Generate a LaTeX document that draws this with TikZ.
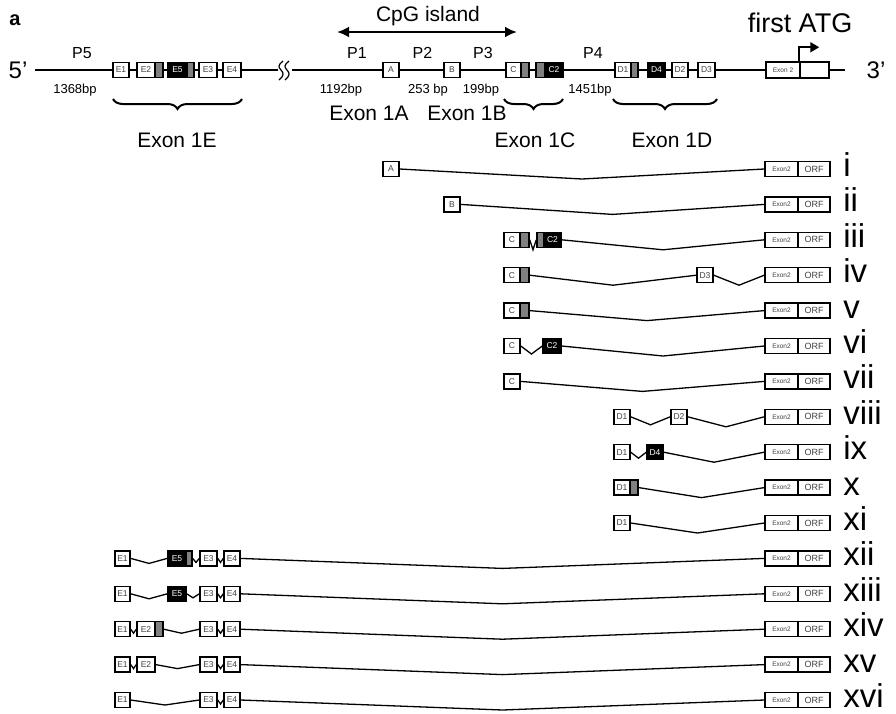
\documentclass[tikz,border=0pt]{standalone}
\usepackage{fontspec}
\setmainfont{Liberation Sans}
\usetikzlibrary{arrows.meta,calc,decorations.pathreplacing}
\tikzset{
  every picture/.style={line width=0.6pt},
  exn/.style={draw,rectangle,line width=1.5pt,minimum height=15,minimum width=16,inner sep=0,fill=white,text=black!75,font=\fontsize{8.5}{8.5}\selectfont},
  gbox/.style={exn,fill=black!50,minimum width=8},
  kbox/.style={exn,fill=black,text=white},
  ebox/.style={exn,minimum width=33,font=\fontsize{6.5}{6.5}\selectfont},
  obox/.style={exn,minimum width=32,font=\fontsize{9}{9}\selectfont},
  lbl/.style={font=\fontsize{16}{16}\selectfont,inner sep=0,anchor=base},
  bp/.style={font=\fontsize{13}{13}\selectfont,inner sep=0,anchor=base},
  big/.style={font=\fontsize{21}{21}\selectfont,inner sep=0,anchor=base},
  num/.style={font=\fontsize{33}{33}\selectfont,inner sep=0,anchor=base west},
  intr/.style={line width=1.3pt},
  gene/.style={line width=2.8pt},
  brc/.style={line width=2pt,decorate,decoration={brace,mirror,amplitude=10pt}},
}
% spliced line: box -> dip -> box
\newcommand{\intron}[3][10]{
  \draw[intr] (#2.east) -- ($(#2.east)!.5!(#3.west)+(0,#1)$) -- (#3.west);}
% exon 2 + ORF + transcript number
\newcommand{\tail}[3]{
  \node[ebox] (#1x) at (781.5,#2) {Exon2};
  \node[obox] (#1o) at (814,#2) {ORF};
  \node[num] (#1n) at (843,#2+7.5) {#3};}

\begin{document}
\begin{tikzpicture}[x=1pt,y=-1pt]
\useasboundingbox (0,0) rectangle (896,713);
\node[font=\fontsize{20}{20}\selectfont\bfseries,inner sep=0,anchor=base] (pa) at (15,25) {a};
% gene backbone
\coordinate (g0) at (35,70); \coordinate (g1) at (278,70);
\coordinate (g2) at (292,70); \coordinate (g3) at (845,70);
\draw[gene] (g0) -- (g1);
\draw[gene] (g2) -- (g3);
\draw[line width=1.2pt] (283,61) .. controls (278,65) and (278,67) .. (281,70) .. controls (284,73) and (284,76) .. (279,80);
\draw[line width=1.2pt] (289,61) .. controls (284,65) and (284,67) .. (287,70) .. controls (290,73) and (290,76) .. (285,80);
\node[font=\fontsize{24}{24}\selectfont,inner sep=0,anchor=base] (p5) at (18,78) {5’};
\node[font=\fontsize{24}{24}\selectfont,inner sep=0,anchor=base] (p3) at (876,78) {3’};
% exon 1E
\node[exn] (tE1) at (121,70) {E1};
\node[exn,minimum width=18] (tE2) at (146,70) {E2};
\node[gbox] (tE2g) at (159,70) {};
\node[kbox,minimum width=19] (tE5) at (177.5,70) {E5};
\node[gbox,minimum width=7] (tE5g) at (190.5,70) {};
\node[exn,minimum width=18] (tE3) at (208,70) {E3};
\node[exn,minimum width=18] (tE4) at (232,70) {E4};
% exons 1A-1D
\node[exn] (tA) at (391,70) {A};
\node[exn] (tB) at (452,70) {B};
\node[exn,minimum width=15] (tC) at (513.5,70) {C};
\node[gbox] (tCg) at (525,70) {};
\node[gbox,minimum width=9] (tC2g) at (540.5,70) {};
\node[kbox,minimum width=18] (tC2) at (554,70) {C2};
\node[exn] (tD1) at (623,70) {D1};
\node[gbox,minimum width=7] (tD1g) at (634.5,70) {};
\node[kbox,minimum width=17] (tD4) at (656.5,70) {D4};
\node[exn] (tD2) at (680,70) {D2};
\node[exn,minimum width=17] (tD3) at (706.5,70) {D3};
% exon 2 + start
\node[exn,minimum width=34,minimum height=16,font=\fontsize{6.5}{6.5}\selectfont] (tX2) at (783,70) {Exon 2};
\node[exn,minimum width=29,minimum height=16] (tORF) at (814.5,70) {};
\draw[line width=2pt,-{Triangle[length=9pt,width=10pt]}] (tORF.north west) -- ++(0,-14) -- ++(20,0);
\node[font=\fontsize{27}{27}\selectfont,inner sep=0,anchor=base] (atg) at (800,32) {first ATG};
% CpG island
\coordinate (cpg0) at (337,32); \coordinate (cpg1) at (517,32);
\draw[line width=2.5pt,{Latex[length=12pt,width=11pt]}-{Latex[length=12pt,width=11pt]}] (cpg0) -- (cpg1);
\node[big] (cpg) at (428,21) {CpG island};
% promoters
\node[lbl] (P5) at (82,58) {P5};
\node[lbl] (P1) at (357,58) {P1};
\node[lbl] (P2) at (422.5,58) {P2};
\node[lbl] (P3) at (483,58) {P3};
\node[lbl] (P4) at (593,58) {P4};
\node[bp] (b5) at (75,93) {1368bp};
\node[bp] (b1) at (341,93) {1192bp};
\node[bp] (b2) at (428,93) {253 bp};
\node[bp] (b3) at (481,93) {199bp};
\node[bp] (b4) at (590,93) {1451bp};
% braces
\draw[brc] (113,99) -- (242,99);
\draw[brc] (504,99) -- (563,99);
\draw[brc] (613,99) -- (717,99);
\node[big] (x1E) at (177,147) {Exon 1E};
\node[big] (x1A) at (369,120) {Exon 1A};
\node[big] (x1B) at (467,120) {Exon 1B};
\node[big] (x1C) at (535,147) {Exon 1C};
\node[big] (x1D) at (672,147) {Exon 1D};

% transcripts
% i
\node[exn] (r1a) at (391,169) {A};
\tail{r1}{169}{i}
\intron{r1a}{r1x}
% ii
\node[exn] (r2b) at (452,204.4) {B};
\tail{r2}{204.4}{ii}
\intron{r2b}{r2x}
% iii
\node[exn] (r3c) at (512,239.8) {C};
\node[gbox,minimum width=9] (r3cg) at (524.5,239.8) {};
\node[gbox,minimum width=7] (r3c2g) at (540.5,239.8) {};
\node[kbox,minimum width=17] (r3c2) at (552.5,239.8) {C2};
\tail{r3}{239.8}{iii}
\intron{r3cg}{r3c2g}
\intron{r3c2}{r3x}
% iv
\node[exn] (r4c) at (512,275.2) {C};
\node[gbox,minimum width=9] (r4cg) at (524.5,275.2) {};
\node[exn] (r4d3) at (705,275.2) {D3};
\tail{r4}{275.2}{iv}
\intron{r4cg}{r4d3}
\intron{r4d3}{r4x}
% v
\node[exn] (r5c) at (512,310.6) {C};
\node[gbox,minimum width=9] (r5cg) at (524.5,310.6) {};
\tail{r5}{310.6}{v}
\intron{r5cg}{r5x}
% vi
\node[exn] (r6c) at (512,346) {C};
\node[kbox,minimum width=18] (r6c2) at (552,346) {C2};
\tail{r6}{346}{vi}
\intron[8]{r6c}{r6c2}
\intron{r6c2}{r6x}
% vii
\node[exn] (r7c) at (512,381.4) {C};
\tail{r7}{381.4}{vii}
\intron{r7c}{r7x}
% viii
\node[exn] (r8d1) at (622,416.8) {D1};
\node[exn] (r8d2) at (679,416.8) {D2};
\tail{r8}{416.8}{viii}
\intron[8]{r8d1}{r8d2}
\intron{r8d2}{r8x}
% ix
\node[exn] (r9d1) at (622,452.2) {D1};
\node[kbox] (r9d4) at (655,452.2) {D4};
\tail{r9}{452.2}{ix}
\intron[6]{r9d1}{r9d4}
\intron{r9d4}{r9x}
% x
\node[exn] (r10d1) at (622,487.6) {D1};
\node[gbox] (r10dg) at (634,487.6) {};
\tail{r10}{487.6}{x}
\intron{r10dg}{r10x}
% xi
\node[exn] (r11d1) at (622,523) {D1};
\tail{r11}{523}{xi}
\intron{r11d1}{r11x}
% xii
\node[exn,minimum width=15] (r12e1) at (122.5,558.4) {E1};
\node[kbox,minimum width=18] (r12e5) at (177,558.4) {E5};
\node[gbox,minimum width=6] (r12eg) at (189,558.4) {};
\node[exn,minimum width=17] (r12e3) at (208.5,558.4) {E3};
\node[exn] (r12e4) at (232,558.4) {E4};
\tail{r12}{558.4}{xii}
\intron[5]{r12e1}{r12e5}
\intron[4]{r12eg}{r12e3}
\intron[4]{r12e3}{r12e4}
\intron{r12e4}{r12x}
% xiii
\node[exn,minimum width=15] (r13e1) at (122.5,593.8) {E1};
\node[kbox,minimum width=18] (r13e5) at (177,593.8) {E5};
\node[exn,minimum width=17] (r13e3) at (208.5,593.8) {E3};
\node[exn] (r13e4) at (232,593.8) {E4};
\tail{r13}{593.8}{xiii}
\intron[5]{r13e1}{r13e5}
\intron[4]{r13e5}{r13e3}
\intron[4]{r13e3}{r13e4}
\intron{r13e4}{r13x}
% xiv
\node[exn,minimum width=15] (r14e1) at (122.5,629.2) {E1};
\node[exn,minimum width=18] (r14e2) at (146,629.2) {E2};
\node[gbox] (r14eg) at (159,629.2) {};
\node[exn,minimum width=17] (r14e3) at (208.5,629.2) {E3};
\node[exn] (r14e4) at (232,629.2) {E4};
\tail{r14}{629.2}{xiv}
\intron[4]{r14e1}{r14e2}
\intron[4]{r14eg}{r14e3}
\intron[4]{r14e3}{r14e4}
\intron{r14e4}{r14x}
% xv
\node[exn,minimum width=15] (r15e1) at (122.5,664.6) {E1};
\node[exn,minimum width=18] (r15e2) at (146,664.6) {E2};
\node[exn,minimum width=17] (r15e3) at (208.5,664.6) {E3};
\node[exn] (r15e4) at (232,664.6) {E4};
\tail{r15}{664.6}{xv}
\intron[4]{r15e1}{r15e2}
\intron[4]{r15e2}{r15e3}
\intron[4]{r15e3}{r15e4}
\intron{r15e4}{r15x}
% xvi
\node[exn,minimum width=15] (r16e1) at (122.5,700) {E1};
\node[exn,minimum width=17] (r16e3) at (208.5,700) {E3};
\node[exn] (r16e4) at (232,700) {E4};
\tail{r16}{700}{xvi}
\intron[5]{r16e1}{r16e3}
\intron[4]{r16e3}{r16e4}
\intron{r16e4}{r16x}
\end{tikzpicture}
\end{document}
